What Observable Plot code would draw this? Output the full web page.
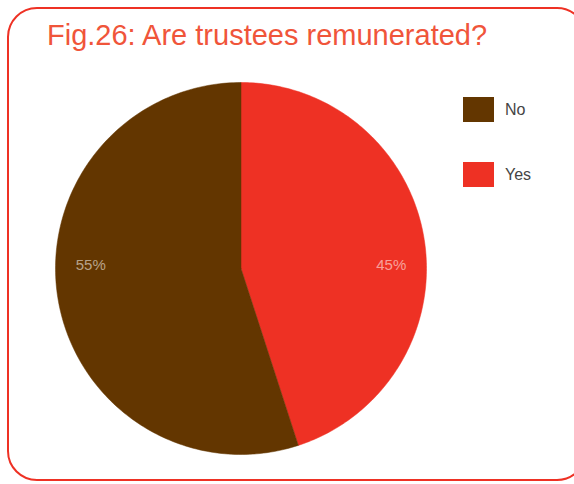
<!DOCTYPE html>
<html>
<head>
<meta charset="utf-8">
<script src="https://cdn.jsdelivr.net/npm/d3@7"></script>
<script src="https://cdn.jsdelivr.net/npm/@observablehq/plot@0.6"></script>
<style>
  html, body { margin: 0; padding: 0; background: #fff; }
  #wrap { position: relative; width: 574px; height: 484px; overflow: hidden; }
  #frame {
    position: absolute; left: 7px; top: 7px; width: 580px; height: 474px;
    border: 2px solid #ee3124; border-radius: 30px; box-sizing: border-box;
  }
  #title {
    position: absolute; left: 47px; top: 19px;
    font-family: "Liberation Sans", Arial, sans-serif; font-size: 29px;
    color: #f0553a; white-space: nowrap;
  }
  #chart { position: absolute; left: 0; top: 0; }
</style>
</head>
<body>
<div id="wrap">
  <div id="frame"></div>
  <div id="title">Fig.26: Are trustees remunerated?</div>
  <div id="chart"></div>
</div>
<script>
const categories = ["Yes", "No"];
const values = [45, 55];
const labels = ["45%", "55%"];
const legendOrder = ["No", "Yes"];
const colors = ["#ee3124", "#633600"];

const slices = d3.pie().sort(null).value(d => d.value)(
  categories.map((c, i) => ({category: c, value: values[i], label: labels[i]}))
);

// polygon outline of each slice on a unit circle (angle 0 = top, clockwise)
const outline = [];
for (const s of slices) {
  outline.push({category: s.data.category, x: 0, y: 0});
  const n = 180;
  for (let k = 0; k <= n; k++) {
    const a = s.startAngle + (s.endAngle - s.startAngle) * k / n;
    outline.push({category: s.data.category, x: Math.sin(a), y: Math.cos(a)});
  }
  outline.push({category: s.data.category, x: 0, y: 0});
}

const labelPts = slices.map(s => {
  const mid = (s.startAngle + s.endAngle) / 2;
  return {label: s.data.label, x: 0.81 * Math.sign(Math.sin(mid)), y: 0.02};
});

const chart = Plot.plot({
  width: 574,
  height: 484,
  margin: 0,
  x: {domain: [-1, 1], range: [55, 426], axis: null},
  y: {domain: [-1, 1], range: [454, 82], axis: null},
  color: {domain: categories, range: colors},
  style: {background: "transparent", overflow: "visible"},
  marks: [
    Plot.line(outline, {x: "x", y: "y", z: "category", fill: "category", stroke: "category", strokeWidth: 0.5, curve: "linear"}),
    Plot.text(labelPts, {x: "x", y: "y", text: "label", fill: "#ffffff", fillOpacity: 0.55, fontSize: 15, fontFamily: "Liberation Sans, Arial, sans-serif"})
  ]
});
document.getElementById("chart").appendChild(chart);

// legend built from the same color scale
const sc = chart.scale("color");
const legend = d3.select(chart).append("g").attr("text-anchor", "start");
legendOrder.forEach((c, i) => {
  const g = legend.append("g").attr("transform", `translate(463, ${97 + i * 65})`);
  g.append("rect").attr("width", 31).attr("height", 25).attr("fill", sc.apply(c));
  g.append("text").attr("x", 42).attr("y", 12).attr("dy", "0.35em")
    .attr("font-family", "Liberation Sans, Arial, sans-serif").attr("font-size", 16)
    .attr("fill", "#444").text(c);
});
</script>
</body>
</html>
